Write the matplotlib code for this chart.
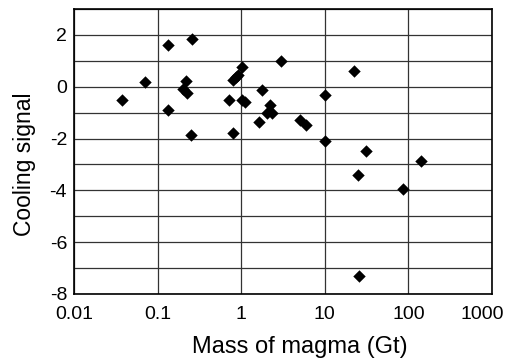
import matplotlib
matplotlib.use("Agg")
import matplotlib.pyplot as plt
import matplotlib.transforms as mtransforms
from matplotlib.ticker import FixedLocator, NullLocator

plt.rcParams["font.family"] = ["Liberation Sans", "DejaVu Sans"]

# magma mass (Gt) and cooling signal
mass = [0.038, 0.071, 0.134, 0.258, 0.219, 0.20, 0.223, 0.134, 0.249,
        0.72, 0.79, 0.79, 0.86, 0.91, 1.01, 1.01, 1.12, 1.79, 2.21, 2.02,
        2.35, 1.62, 2.97, 22.3, 10.1, 5.05, 5.96, 10.1, 31.1, 141.6, 25.2,
        86.9, 25.4]
cooling = [-0.5, 0.17, 1.62, 1.85, 0.21, -0.08, -0.23, -0.9, -1.85,
           -0.51, -1.79, 0.26, 0.36, 0.45, 0.77, -0.51, -0.58, -0.13, -0.7,
           -1.02, -1.0, -1.38, 1.01, 0.6, -0.31, -1.28, -1.47, -2.09, -2.47,
           -2.85, -3.40, -3.95, -7.31]

x_ticks = [0.01, 0.1, 1, 10, 100, 1000]
x_tick_labels = ["0.01", "0.1", "1", "10", "100", "1000"]
y_ticks = [-8, -6, -4, -2, 0, 2]

fig = plt.figure(figsize=(5.09, 3.58), dpi=100)
ax = fig.add_axes([0.1454, 0.1788, 0.8212, 0.7961])

ax.scatter(mass, cooling, marker="D", s=40, color="black", zorder=3, linewidths=0)

ax.set_xscale("log")
ax.set_xlim(0.01, 1000)
ax.set_ylim(-8, 3)
ax.set_xticks(x_ticks)
ax.set_xticklabels(x_tick_labels)
ax.xaxis.set_minor_locator(NullLocator())
ax.set_yticks(y_ticks)
ax.set_yticklabels([str(v) for v in y_ticks])
ax.yaxis.set_minor_locator(FixedLocator([-7, -5, -3, -1, 1, 3]))

ax.grid(True, which="both", color="#333333", linewidth=0.9)
ax.set_axisbelow(True)
ax.tick_params(which="both", length=0, labelsize=14)
ax.tick_params(axis="x", pad=9)
ax.tick_params(axis="y", pad=5)
for spine in ax.spines.values():
    spine.set_linewidth(1.2)

# last x label sits a bit left of its tick so it stays inside the figure
last = ax.get_xticklabels()[-1]
last.set_transform(last.get_transform() + mtransforms.ScaledTranslation(-0.1, 0, fig.dpi_scale_trans))

ax.set_xlabel("Mass of magma (Gt)", fontsize=17)
ax.set_ylabel("Cooling signal", fontsize=16.5)
ax.xaxis.set_label_coords(0.541, -0.147)
ax.yaxis.set_label_coords(-0.09, 0.456)

fig.savefig("out.png", dpi=100)
plt.close(fig)
